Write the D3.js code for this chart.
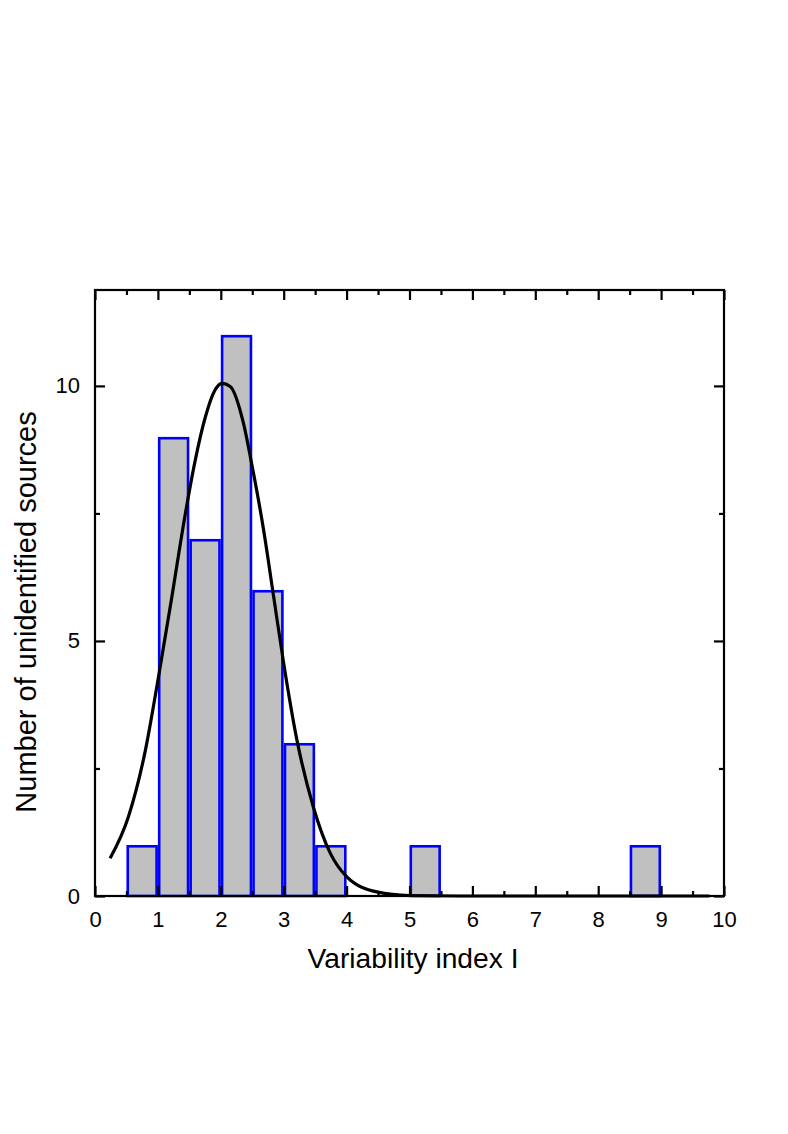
<!DOCTYPE html>
<html>
<head>
<meta charset="utf-8">
<script src="https://cdn.jsdelivr.net/npm/d3@7"></script>
<style>
  html, body { margin: 0; padding: 0; background: #fff; }
  svg { display: block; }
  text { font-family: "Liberation Sans", Arial, sans-serif; fill: #000; }
</style>
</head>
<body>
<svg id="chart" width="788" height="1134"></svg>
<script>
// Histogram bins (left edge, right edge) and counts
const binStarts = [0.5, 1.0, 1.5, 2.0, 2.5, 3.0, 3.5, 5.0, 8.5];
const binEnds   = [1.0, 1.5, 2.0, 2.5, 3.0, 3.5, 4.0, 5.5, 9.0];
const counts    = [1, 9, 7, 11, 6, 3, 1, 1, 1];

// Fitted curve, points
const fitX = [0.24, 0.53, 0.80, 1.01, 1.22, 1.43, 1.59, 1.75, 1.90, 2.02, 2.15, 2.36, 2.49, 2.68, 2.84, 3.00, 3.21, 3.47, 3.74, 4.00, 4.48, 5.00, 6.00, 7.00, 8.00, 9.00, 9.77];
const fitY = [0.74, 1.55, 2.85, 4.30, 5.85, 7.45, 8.52, 9.37, 9.90, 10.05, 9.99, 9.27, 8.48, 7.18, 5.87, 4.56, 3.06, 1.75, 0.84, 0.38, 0.08, 0.01, 0, 0, 0, 0, 0];

const xMajorTicks = [0, 1, 2, 3, 4, 5, 6, 7, 8, 9, 10];
const xMinorTicks = [0.5, 1.5, 2.5, 3.5, 4.5, 5.5, 6.5, 7.5, 8.5, 9.5];
const yMajorTicks = [0, 5, 10];
const yMinorTicks = [2.5, 7.5];

const xTitle = "Variability index I";
const yTitle = "Number of unidentified sources";

const pLeft = 95, pRight = 724, pTop = 290, pBottom = 896;
const x = d3.scaleLinear().domain([0, 10]).range([pLeft, pRight]);
const y = d3.scaleLinear().domain([0, 11.88]).range([pBottom, pTop]);

const svg = d3.select("#chart");

// bars
const sw = 2.6;
const bars = binStarts.map((s, i) => ({ s, e: binEnds[i], c: counts[i] }));
svg.append("g").selectAll("rect").data(bars).join("rect")
  .attr("x", d => x(d.s) + sw / 2)
  .attr("y", d => y(d.c) + sw / 2)
  .attr("width", d => x(d.e) - x(d.s) - sw)
  .attr("height", d => y(0) - y(d.c) - sw / 2)
  .attr("fill", "#c0c0c0")
  .attr("stroke", "#0000ff")
  .attr("stroke-width", sw);

// fit curve
const pts = fitX.map((v, i) => [v, fitY[i]]);
svg.append("path")
  .attr("d", d3.line().x(d => x(d[0])).y(d => y(d[1])).curve(d3.curveMonotoneX)(pts))
  .attr("fill", "none")
  .attr("stroke", "#000")
  .attr("stroke-width", 3.2);

// axes with inward ticks
const major = 10, minor = 5;
const axW = 2.2;
function addAxis(axisFn, scale, transform, ticks, len, labels) {
  const g = svg.append("g").attr("transform", transform);
  const a = axisFn(scale).tickValues(ticks).tickSizeInner(-len).tickSizeOuter(0);
  if (!labels) a.tickFormat("");
  else a.tickFormat(d3.format("d")).tickPadding(15);
  g.call(a);
  g.select(".domain").remove();
  g.attr("font-size", 22).attr("font-family", "Liberation Sans, Arial, sans-serif");
  g.selectAll(".tick line").attr("stroke", "#000").attr("stroke-width", axW);
  g.selectAll(".tick text").attr("font-size", 22).attr("fill", "#000");
  return g;
}
addAxis(d3.axisBottom, x, `translate(0,${pBottom})`, xMajorTicks, major, true);
addAxis(d3.axisBottom, x, `translate(0,${pBottom})`, xMinorTicks, minor, false);
addAxis(d3.axisTop, x, `translate(0,${pTop})`, xMajorTicks, major, false);
addAxis(d3.axisTop, x, `translate(0,${pTop})`, xMinorTicks, minor, false);
const ly = addAxis(d3.axisLeft, y, `translate(${pLeft},0)`, yMajorTicks, major, true);
addAxis(d3.axisLeft, y, `translate(${pLeft},0)`, yMinorTicks, minor, false);
addAxis(d3.axisRight, y, `translate(${pRight},0)`, yMajorTicks, major, false);
addAxis(d3.axisRight, y, `translate(${pRight},0)`, yMinorTicks, minor, false);

// frame
svg.append("rect")
  .attr("x", pLeft).attr("y", pTop)
  .attr("width", pRight - pLeft).attr("height", pBottom - pTop)
  .attr("fill", "none").attr("stroke", "#000").attr("stroke-width", axW);

// titles
svg.append("text")
  .attr("x", 413).attr("y", 968)
  .attr("text-anchor", "middle").attr("font-size", 28.2)
  .text(xTitle);
svg.append("text")
  .attr("transform", `translate(36,612) rotate(-90)`)
  .attr("text-anchor", "middle").attr("font-size", 29)
  .text(yTitle);
</script>
</body>
</html>
